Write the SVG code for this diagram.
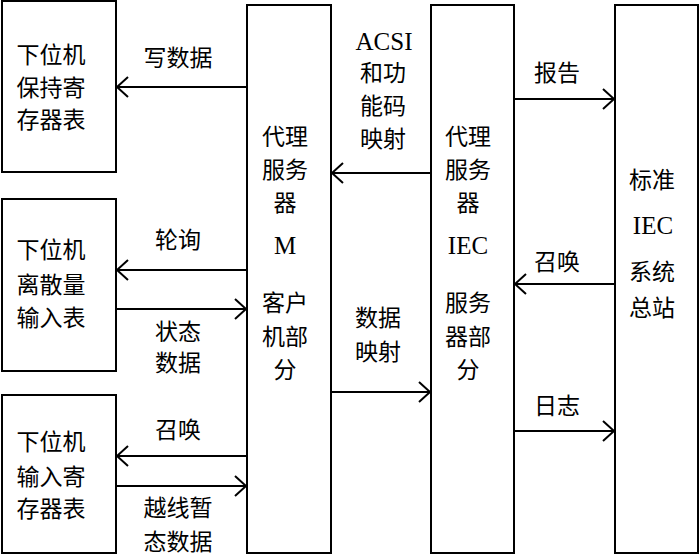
<svg xmlns="http://www.w3.org/2000/svg" width="700" height="555" viewBox="0 0 700 555">
<defs>
<style>
.box{fill:#fff;stroke:#000;stroke-width:2}
.ln{fill:none;stroke:#000;stroke-width:2;marker-end:url(#ah)}
text{font-family:"Liberation Serif","Noto Sans CJK SC",serif;font-size:23px;fill:#000;text-anchor:middle;dominant-baseline:central}
.lat{font-size:25px}
</style>
<marker id="ah" markerUnits="userSpaceOnUse" markerWidth="14" markerHeight="24" refX="12" refY="11" orient="auto">
<path d="M1,1 L12,11 L1,21" fill="none" stroke="#000" stroke-width="2"/>
</marker>
</defs>
<rect width="700" height="555" fill="#fff"/>
<g id="node-hold">
<rect class="box" x="2" y="1" width="114" height="171"/>
<text x="51" y="55">下位机</text><text x="51" y="88">保持寄</text><text x="51" y="120">存器表</text>
</g>
<g id="node-discrete">
<rect class="box" x="2" y="199" width="114" height="172"/>
<text x="51" y="250">下位机</text><text x="51" y="285">离散量</text><text x="51" y="318">输入表</text>
</g>
<g id="node-input">
<rect class="box" x="2" y="395" width="114" height="158"/>
<text x="51" y="442">下位机</text><text x="51" y="477">输入寄</text><text x="51" y="509">存器表</text>
</g>
<g id="node-proxy-m">
<rect class="box" x="247" y="5" width="84" height="548"/>
<text x="285" y="137">代理</text><text x="285" y="170">服务</text><text x="285" y="203">器</text><text class="lat" x="285" y="245">M</text>
<text x="285" y="303">客户</text><text x="285" y="337">机部</text><text x="285" y="370">分</text>
</g>
<g id="node-proxy-iec">
<rect class="box" x="431" y="5" width="83" height="548"/>
<text x="468" y="137">代理</text><text x="468" y="170">服务</text><text x="468" y="203">器</text><text class="lat" x="468" y="245">IEC</text>
<text x="468" y="303">服务</text><text x="468" y="337">器部</text><text x="468" y="370">分</text>
</g>
<g id="node-master">
<rect class="box" x="615" y="5" width="83" height="548"/>
<text x="652" y="180">标准</text><text class="lat" x="653" y="225">IEC</text><text x="652" y="272">系统</text><text x="652" y="308">总站</text>
</g>
<g id="connectors">
<line class="ln" x1="247" y1="87" x2="117" y2="87"/>
<line class="ln" x1="247" y1="270" x2="117" y2="270"/>
<line class="ln" x1="116" y1="309" x2="246" y2="309"/>
<line class="ln" x1="247" y1="456" x2="117" y2="456"/>
<line class="ln" x1="116" y1="486" x2="246" y2="486"/>
<line class="ln" x1="431" y1="173" x2="332" y2="173"/>
<line class="ln" x1="331" y1="392" x2="430" y2="392"/>
<line class="ln" x1="514" y1="99" x2="614" y2="99"/>
<line class="ln" x1="615" y1="284" x2="515" y2="284"/>
<line class="ln" x1="514" y1="431" x2="614" y2="431"/>
</g>
<g id="labels">
<text x="178" y="58">写数据</text>
<text x="178" y="240">轮询</text>
<text x="178" y="332">状态</text><text x="178" y="363">数据</text>
<text x="178" y="430">召唤</text>
<text x="178" y="508">越线暂</text><text x="178" y="542">态数据</text>
<text class="lat" x="384" y="41">ACSI</text><text x="383" y="73">和功</text><text x="383" y="106">能码</text><text x="383" y="139">映射</text>
<text x="378" y="318">数据</text><text x="378" y="352">映射</text>
<text x="557" y="73">报告</text>
<text x="557" y="262">召唤</text>
<text x="557" y="406">日志</text>
</g>
</svg>
